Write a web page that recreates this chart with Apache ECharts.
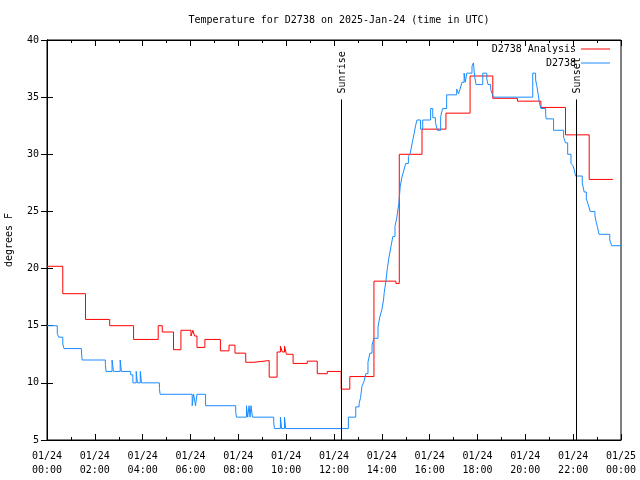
<!DOCTYPE html>
<html>
<head>
<meta charset="utf-8">
<script src="https://cdn.jsdelivr.net/npm/echarts@6/dist/echarts.min.js"></script>
<style>html,body{margin:0;padding:0;background:#fff}#c{width:640px;height:480px}</style>
</head>
<body>
<div id="c"></div>
<script>
const titleText = 'Temperature for D2738 on 2025-Jan-24 (time in UTC)';
const xTickLabels = ['01/24\n00:00','01/24\n02:00','01/24\n04:00','01/24\n06:00','01/24\n08:00','01/24\n10:00','01/24\n12:00','01/24\n14:00','01/24\n16:00','01/24\n18:00','01/24\n20:00','01/24\n22:00','01/25\n00:00'];
const seriesNames = ['D2738 Analysis', 'D2738'];
const sunriseHour = 12.29;
const sunsetHour = 22.13;
const sunLineTop = 34.8;

const redT = [0,0.66,1.61,2.62,3.62,4.65,4.82,5.29,5.60,6.02,6.10,6.17,6.27,6.60,7.25,7.61,7.86,8.31,8.64,9.29,9.62,9.76,9.84,9.93,10.01,10.29,10.88,11.30,11.72,12.30,12.66,13.67,14.59,14.73,15.68,16.68,17.69,18.64,19.67,20.65,21.68,22.67,23.66];
const redV = [20.2,17.8,15.55,15.0,13.8,15.0,14.45,12.9,14.6,14.1,14.6,14.1,13.1,13.8,12.8,13.3,12.6,11.8,11.95,10.5,12.7,13.2,12.7,13.2,12.5,11.7,11.9,10.8,11.0,9.45,10.55,18.9,18.7,30.0,32.2,33.6,36.85,34.9,34.65,34.1,31.7,27.8,27.8];

const blueT = [0,0.43,0.49,0.66,0.71,1.44,1.47,2.44,2.47,2.72,2.78,3.06,3.11,3.50,3.59,3.73,3.78,3.90,3.95,4.70,4.73,6.07,6.13,6.21,6.27,6.63,7.89,7.92,8.34,8.39,8.45,8.49,8.53,8.59,9.48,9.51,9.76,9.81,9.93,9.98,12.60,12.91,13.05,13.11,13.17,13.25,13.33,13.42,13.50,13.59,13.67,13.84,13.92,14.00,14.07,14.10,14.17,14.23,14.30,14.38,14.46,14.55,14.63,14.71,14.77,14.84,14.92,15.00,15.11,15.19,15.27,15.35,15.41,15.47,15.62,15.71,16.04,16.13,16.24,16.32,16.46,16.54,16.71,17.13,17.21,17.27,17.35,17.44,17.49,17.55,17.77,17.83,17.88,17.94,18.22,18.39,18.44,18.55,18.61,18.67,20.31,20.43,20.48,20.54,20.59,20.65,20.85,20.87,21.18,21.60,21.68,21.77,21.91,21.99,22.04,22.10,22.38,22.46,22.55,22.63,22.71,22.91,22.97,23.02,23.08,23.53,23.61,24.0];
const blueV = [15.0,14.3,14.0,13.4,13.0,12.7,12.0,11.6,11.0,12.0,11.0,12.0,11.0,10.7,10.0,11.0,10.0,11.0,10.0,9.5,9.0,8.0,9.0,8.0,9.0,8.0,7.5,7.0,8.0,7.0,8.0,7.0,8.0,7.0,6.5,6.0,7.0,6.0,7.0,6.0,7.0,7.9,8.2,8.7,9.7,10.1,10.8,11.8,12.6,13.3,13.9,14.9,15.8,16.4,17.25,17.9,18.9,20.0,21.0,21.9,22.8,23.7,24.5,25.7,27.2,28.0,28.6,29.2,29.8,30.1,31.0,31.8,32.5,33.0,32.2,33.0,34.0,33.2,32.8,32.1,33.3,34.0,35.2,35.7,35.3,35.7,36.3,37.1,36.3,37.1,37.7,38.0,36.8,36.1,37.1,36.6,36.1,35.7,35.3,35.0,37.1,36.5,36.0,35.2,34.5,34.0,33.5,33.1,32.1,31.5,31.0,30.0,29.2,29.0,28.7,28.1,27.5,26.7,26.1,25.6,25.0,24.6,24.0,23.6,23.0,22.5,22.0,22.0];

const FONT = 'DejaVu Sans Mono';
const RED = '#ff0000';
const BLUE = '#1a8cff';
const zip = (a, b) => a.map((t, i) => [t, b[i]]);

const chart = echarts.init(document.getElementById('c'), null, {renderer: 'canvas'});

const xBase = {
  type: 'value', min: 0, max: 24, interval: 2,
  axisLine: {show: true, lineStyle: {color: '#000', width: 1}},
  axisTick: {show: true, inside: true, length: 6, lineStyle: {color: '#000'}},
  minorTick: {show: true, splitNumber: 2, length: 3, lineStyle: {color: '#000'}},
  splitLine: {show: false},
  minorSplitLine: {show: false}
};
const yBase = {
  type: 'value', min: 5, max: 40, interval: 5,
  axisLine: {show: true, lineStyle: {color: '#000', width: 1}},
  axisTick: {show: true, inside: true, length: 6, lineStyle: {color: '#000'}},
  splitLine: {show: false}
};

chart.setOption({
  animation: false,
  backgroundColor: '#fff',
  title: {
    text: titleText, left: 334, top: 10, textAlign: 'center',
    textStyle: {fontFamily: FONT, fontSize: 10, fontWeight: 'normal', color: '#000'}
  },
  grid: {left: 47, right: 19, top: 40, bottom: 40, show: true, borderColor: '#000', borderWidth: 1,
         containLabel: false, outerBoundsMode: 'none'},
  legend: {
    orient: 'vertical', align: 'right', right: 30, top: 44,
    itemWidth: 29, itemHeight: 1, itemGap: 4, icon: 'rect', padding: 0,
    textStyle: {fontFamily: FONT, fontSize: 10, color: '#000'},
    data: [
      {name: seriesNames[0], icon: 'rect', itemStyle: {color: RED}},
      {name: seriesNames[1], icon: 'rect', itemStyle: {color: BLUE}}
    ]
  },
  xAxis: [
    Object.assign({}, xBase, {
      position: 'bottom',
      axisLabel: {
        fontFamily: FONT, fontSize: 10, color: '#000', lineHeight: 14, margin: 9,
        formatter: v => xTickLabels[Math.round(v / 2)]
      }
    }),
    Object.assign({}, xBase, {position: 'top', axisLabel: {show: false}})
  ],
  yAxis: [
    Object.assign({}, yBase, {
      position: 'left',
      name: 'degrees F', nameLocation: 'middle', nameGap: 33, nameRotate: 90,
      nameTextStyle: {fontFamily: FONT, fontSize: 10, color: '#000'},
      axisLabel: {fontFamily: FONT, fontSize: 10, color: '#000', margin: 8}
    }),
    Object.assign({}, yBase, {position: 'right', axisLabel: {show: false}})
  ],
  series: [
    {
      name: seriesNames[0], type: 'line', step: 'end', showSymbol: false, symbol: 'none',
      data: zip(redT, redV), color: RED,
      lineStyle: {color: RED, width: 1},
      markLine: {
        silent: true, symbol: 'none', label: {show: false},
        lineStyle: {color: '#000', width: 1, type: 'solid'},
        data: [
          [{coord: [sunriseHour, 5]}, {coord: [sunriseHour, sunLineTop]}],
          [{coord: [sunsetHour, 5]}, {coord: [sunsetHour, sunLineTop]}]
        ]
      }
    },
    {
      name: seriesNames[1], type: 'line', step: 'end', showSymbol: false, symbol: 'none',
      data: zip(blueT, blueV), color: BLUE,
      lineStyle: {color: BLUE, width: 1}
    }
  ]
});

function sunLabel(text, hour) {
  const x = chart.convertToPixel({xAxisIndex: 0}, hour);
  const yTop = chart.convertToPixel({yAxisIndex: 0}, sunLineTop);
  return {
    type: 'text', x: x + 1, y: yTop - 6, rotation: Math.PI / 2,
    style: {text: text, fontFamily: FONT, fontSize: 10, fill: '#000', align: 'left', verticalAlign: 'middle'}
  };
}
chart.setOption({graphic: [sunLabel('Sunrise', sunriseHour), sunLabel('Sunset', sunsetHour)]});
</script>
</body>
</html>
